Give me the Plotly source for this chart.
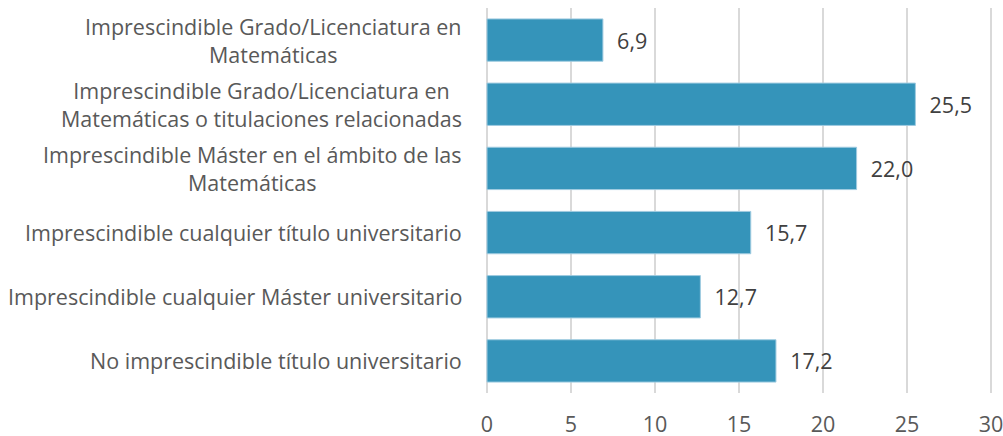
import plotly.graph_objects as go

categories = [
    "Imprescindible Grado/Licenciatura en<br>Matemáticas",
    "Imprescindible Grado/Licenciatura en<br>Matemáticas o titulaciones relacionadas",
    "Imprescindible Máster en el ámbito de las<br>Matemáticas",
    "Imprescindible cualquier título universitario",
    "Imprescindible cualquier Máster universitario",
    "No imprescindible título universitario",
]
values = [6.9, 25.5, 22.0, 15.7, 12.7, 17.2]
x_ticks = [0, 5, 10, 15, 20, 25, 30]

FONT = "Open Sans, Lato, sans-serif"

fig = go.Figure(go.Bar(
    y=categories,
    x=values,
    orientation="h",
    marker=dict(color="#3594BA", line=dict(color="#9FCBE0", width=1)),
    width=0.66,
    texttemplate="  %{x:.1f}",
    textposition="outside",
    textfont=dict(size=21.5, color="#404040", family=FONT),
    cliponaxis=False,
))

for cat in categories:
    fig.add_annotation(
        x=0, xref="paper", y=cat, yref="y",
        text=cat, showarrow=False,
        xanchor="right", yanchor="middle", align="center",
        xshift=-22,
        font=dict(size=21.5, color="#595959", family=FONT),
    )

fig.update_layout(
    width=1003, height=436,
    margin=dict(l=486, r=11, t=8, b=43, autoexpand=False),
    paper_bgcolor="white",
    plot_bgcolor="white",
    separators=",.",
    font=dict(family=FONT, size=21.5, color="#595959"),
    showlegend=False,
)
fig.update_xaxes(
    range=[-0.06, 30.06],
    tickvals=x_ticks,
    showgrid=True, gridcolor="#D9D9D9", gridwidth=2,
    zeroline=False,
    showline=False,
    ticks="",
    ticklabelstandoff=16,
    ticklabeloverflow="allow",
    tickfont=dict(size=21.5, color="#595959", family=FONT),
    automargin=False,
    fixedrange=True,
)
fig.update_yaxes(
    autorange="reversed",
    showgrid=False,
    showticklabels=False,
    ticks="",
    zeroline=False,
    automargin=False,
    fixedrange=True,
)

fig.write_html(
    "out.html",
    config={"displayModeBar": False},
    post_script="document.body.style.margin='0';document.body.style.overflow='hidden';",
)
